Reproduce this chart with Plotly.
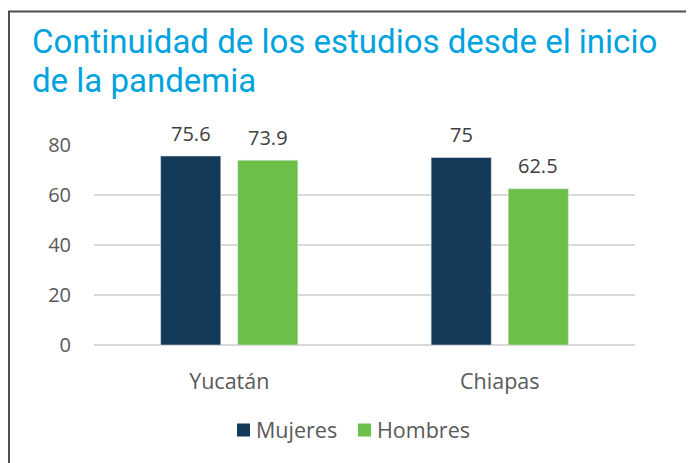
import plotly.graph_objects as go

categories = ["Yucatán", "Chiapas"]
series_names = ["Mujeres", "Hombres"]
mujeres = [75.6, 75]
hombres = [73.9, 62.5]
mujeres_labels = ["75.6", "75"]
hombres_labels = ["73.9", "62.5"]
y_ticks = [0, 20, 40, 60, 80]
title_lines = ["Continuidad de los estudios desde el inicio", "de la pandemia"]
colors = ["#133A59", "#6CC04A"]

W, H = 694, 463
OFF = 8  # browser body margin
L, T = 94 - OFF, 145 - OFF
R = W - (635 - OFF)
B = H - (345 - OFF)
pw, ph = W - L - R, H - T - B
BARGAP, BARGROUPGAP = 0.43, 0.22

def px_x(p):
    return (p - OFF - L) / pw

def px_y(p):
    return (H - B - (p - OFF)) / ph

lbl_font = dict(family="Open Sans", size=20, color="#404040")

fig = go.Figure()
series = [(mujeres, mujeres_labels), (hombres, hombres_labels)]
for k, (vals, labels) in enumerate(series):
    fig.add_trace(go.Bar(name=series_names[k], x=categories, y=vals,
                         marker_color=colors[k], showlegend=False))

# data labels above bars, placed at bar centers within each group
slot_px = pw / len(categories) * (1 - BARGAP) / len(series)
for k, (vals, labels) in enumerate(series):
    shift = (k - (len(series) - 1) / 2) * slot_px
    for cat, v, t in zip(categories, vals, labels):
        fig.add_annotation(x=cat, y=v, text=t, showarrow=False, xshift=shift, yshift=23,
                           xanchor="center", yanchor="middle", font=lbl_font)

fig.update_layout(
    width=W, height=H,
    margin=dict(l=L, r=R, t=T, b=B),
    paper_bgcolor="white", plot_bgcolor="white",
    barmode="group", bargap=BARGAP, bargroupgap=BARGROUPGAP,
    font=dict(family="Open Sans", size=20, color="#595959"),
    showlegend=False,
    xaxis=dict(showgrid=False, showline=False, ticks="outside", ticklen=17, tickcolor="rgba(0,0,0,0)",
               tickfont=dict(family="Open Sans", size=21.5, color="#595959")),
    yaxis=dict(range=[0, 80], tickvals=y_ticks, showgrid=True, gridcolor="#D9D9D9", gridwidth=1.5,
               zeroline=True, zerolinecolor="#D9D9D9", zerolinewidth=1.5, showline=False,
               ticks="outside", ticklen=18, tickcolor="rgba(0,0,0,0)",
               tickfont=dict(family="Open Sans", size=20, color="#595959")),
)

# legend (square swatch + label)
legend_x = [237, 358]
for k, name in enumerate(series_names):
    x0 = legend_x[k]
    fig.add_shape(type="rect", xref="paper", yref="paper",
                  x0=px_x(x0), x1=px_x(x0 + 13), y0=px_y(436.5), y1=px_y(423.5),
                  fillcolor=colors[k], line=dict(width=0))
    fig.add_annotation(text=name, xref="paper", yref="paper", x=px_x(x0 + 17), y=px_y(429.5),
                       xanchor="left", yanchor="middle", showarrow=False,
                       font=dict(family="Open Sans", size=21.5, color="#595959"))

title_font = dict(family="Liberation Sans Narrow, Arial Narrow, Roboto", size=33, color="#00A3E0")
for i, line in enumerate(title_lines):
    fig.add_annotation(text=line, xref="paper", yref="paper", x=px_x(30), y=px_y(20 + 39 * i),
                       xanchor="left", yanchor="top", showarrow=False, font=title_font)

fig.add_shape(type="rect", xref="paper", yref="paper",
              x0=px_x(9), x1=px_x(730), y0=px_y(520), y1=px_y(11.5),
              line=dict(color="#505050", width=2), fillcolor="rgba(0,0,0,0)", layer="above")

fig.write_html("out.html")
